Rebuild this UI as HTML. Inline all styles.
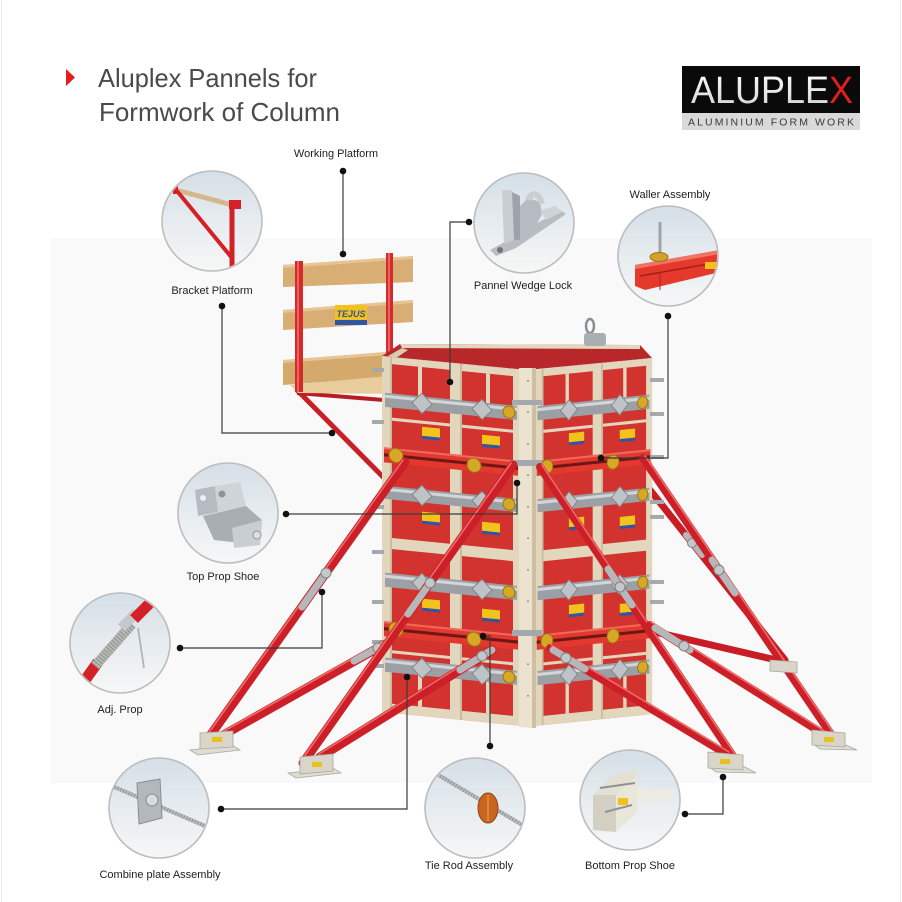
<!DOCTYPE html>
<html><head><meta charset="utf-8">
<style>
html,body{margin:0;padding:0;background:#fff;}
svg{display:block;}
text{font-family:"Liberation Sans",Arial,sans-serif;}
</style></head>
<body>
<svg width="902" height="902" viewBox="0 0 902 902" xmlns="http://www.w3.org/2000/svg">
<defs>
  <linearGradient id="cg" x1="0" y1="0" x2="0" y2="1">
    <stop offset="0" stop-color="#d5dfe7"/>
    <stop offset="0.55" stop-color="#e8edf0"/>
    <stop offset="1" stop-color="#f6f7f7"/>
  </linearGradient>
  <linearGradient id="alu" x1="0" y1="0" x2="0" y2="1">
    <stop offset="0" stop-color="#ffffff"/>
    <stop offset="1" stop-color="#cfcfcf"/>
  </linearGradient>
  <clipPath id="c1"><circle cx="212" cy="221" r="49"/></clipPath>
  <clipPath id="c2"><circle cx="524" cy="223" r="49"/></clipPath>
  <clipPath id="c3"><circle cx="668" cy="256" r="49"/></clipPath>
  <clipPath id="c4"><circle cx="228" cy="513" r="49"/></clipPath>
  <clipPath id="c5"><circle cx="120" cy="643" r="49"/></clipPath>
  <clipPath id="c6"><circle cx="159" cy="808" r="49"/></clipPath>
  <clipPath id="c7"><circle cx="475" cy="808" r="49"/></clipPath>
  <clipPath id="c8"><circle cx="630" cy="800" r="49"/></clipPath>

  <g id="face">
    <rect width="138" height="352" fill="#bd2428"/>
    <rect x="10" y="7" width="58" height="172" fill="#d3332f"/>
    <rect x="80" y="7" width="51" height="172" fill="#d3332f"/>
    <rect x="10" y="190" width="58" height="153" fill="#d3332f"/>
    <rect x="80" y="190" width="51" height="153" fill="#d3332f"/>
    <g fill="#e2d6bd">
      <rect x="0" y="0" width="10" height="352"/>
      <rect x="68" y="0" width="12" height="352"/>
      <rect x="131" y="0" width="7" height="352"/>
      <rect x="0" y="0" width="138" height="7"/>
      <rect x="0" y="179" width="138" height="11"/>
      <rect x="0" y="343" width="138" height="9"/>
      <rect x="36" y="7" width="4" height="30"/>
      <rect x="104" y="7" width="4" height="30"/>
      <rect x="36" y="312" width="4" height="31"/>
      <rect x="104" y="312" width="4" height="31"/>
      <rect x="10" y="60" width="58" height="3"/>
      <rect x="80" y="60" width="51" height="3"/>
      <rect x="10" y="290" width="58" height="3"/>
      <rect x="80" y="290" width="51" height="3"/>
    </g>
    <g fill="#c7bba2">
      <rect x="8" y="0" width="2" height="352"/>
      <rect x="78" y="0" width="2" height="352"/>
    </g>
    <!-- gray walers -->
    <g>
      <rect x="3" y="36" width="132" height="14" fill="#9aa0a4"/>
      <rect x="3" y="38" width="132" height="3" fill="#d2d6d8"/>
      <rect x="3" y="128" width="132" height="13" fill="#9aa0a4"/>
      <rect x="3" y="130" width="132" height="3" fill="#d2d6d8"/>
      <rect x="3" y="214" width="132" height="14" fill="#9aa0a4"/>
      <rect x="3" y="216" width="132" height="3" fill="#d2d6d8"/>
      <rect x="3" y="298" width="132" height="14" fill="#9aa0a4"/>
      <rect x="3" y="300" width="132" height="3" fill="#d2d6d8"/>
    </g>
    <g fill="#bfc3c6" stroke="#7f8589" stroke-width="1">
      <polygon points="40,33 50,43 40,53 30,43"/>
      <polygon points="100,33 110,43 100,53 90,43"/>
      <polygon points="40,124 50,134 40,144 30,134"/>
      <polygon points="100,124 110,134 100,144 90,134"/>
      <polygon points="40,211 50,221 40,231 30,221"/>
      <polygon points="100,211 110,221 100,231 90,221"/>
      <polygon points="40,295 50,305 40,315 30,305"/>
      <polygon points="100,295 110,305 100,315 90,305"/>
    </g>
    <g fill="#d6a826" stroke="#9c7410" stroke-width="1">
      <circle cx="127" cy="43" r="6"/>
      <circle cx="127" cy="134" r="6"/>
      <circle cx="127" cy="221" r="6"/>
      <circle cx="127" cy="305" r="6"/>
    </g>
    <!-- logos -->
    <g>
      <rect x="40" y="66" width="18" height="9" fill="#f2c31b"/><rect x="40" y="75" width="18" height="3" fill="#2f55a6"/>
      <rect x="100" y="68" width="18" height="9" fill="#f2c31b"/><rect x="100" y="77" width="18" height="3" fill="#2f55a6"/>
      <rect x="40" y="150" width="18" height="9" fill="#f2c31b"/><rect x="40" y="159" width="18" height="3" fill="#2f55a6"/>
      <rect x="100" y="154" width="18" height="9" fill="#f2c31b"/><rect x="100" y="163" width="18" height="3" fill="#2f55a6"/>
      <rect x="40" y="236" width="18" height="9" fill="#f2c31b"/><rect x="40" y="245" width="18" height="3" fill="#2f55a6"/>
      <rect x="100" y="240" width="18" height="9" fill="#f2c31b"/><rect x="100" y="249" width="18" height="3" fill="#2f55a6"/>
    </g>
    <!-- red walers -->
    <g>
      <rect x="2" y="90" width="134" height="15" fill="#e2382e"/>
      <rect x="2" y="96" width="134" height="3" fill="#6e1717"/>
      <rect x="2" y="90" width="134" height="2" fill="#f06a5e"/>
      <rect x="2" y="262" width="134" height="15" fill="#e2382e"/>
      <rect x="2" y="268" width="134" height="3" fill="#6e1717"/>
      <rect x="2" y="262" width="134" height="2" fill="#f06a5e"/>
    </g>
    <g fill="#d6a826" stroke="#9c7410" stroke-width="1">
      <circle cx="14" cy="97" r="7"/>
      <circle cx="92" cy="99" r="7"/>
      <circle cx="14" cy="269" r="7"/>
      <circle cx="92" cy="271" r="7"/>
    </g>
  </g>
</defs>

<!-- background -->
<rect width="902" height="902" fill="#ffffff"/>
<rect x="51" y="238" width="821" height="545" fill="#f9f9f9"/>
<line x1="1.5" y1="0" x2="1.5" y2="902" stroke="#e8e8e8" stroke-width="1"/>
<line x1="900.5" y1="0" x2="900.5" y2="902" stroke="#ededed" stroke-width="1"/>

<!-- title -->
<polygon points="66,69 75,77.5 66,86" fill="#e41e1e"/>
<text x="98" y="87" font-size="26" fill="#4a4a4a" textLength="219" lengthAdjust="spacingAndGlyphs">Aluplex Pannels for</text>
<text x="99" y="121" font-size="26" fill="#4a4a4a" textLength="241" lengthAdjust="spacingAndGlyphs">Formwork of Column</text>

<!-- logo -->
<rect x="682" y="66" width="178" height="47" fill="#0a0a0a"/>
<rect x="682" y="113" width="178" height="17" fill="#d9d9d9"/>
<text x="691" y="103" font-size="38" fill="url(#alu)" textLength="162" lengthAdjust="spacingAndGlyphs">ALUPLE<tspan fill="#e0201d">X</tspan></text>
<text x="688" y="125.5" font-size="10.5" fill="#3a3a3a" textLength="166" lengthAdjust="spacing">ALUMINIUM FORM WORK</text>

<!-- platform (behind column) -->
<g>
  <line x1="297" y1="390" x2="386" y2="480" stroke="#c91f26" stroke-width="5"/>
  <line x1="297" y1="393" x2="384" y2="400" stroke="#b81d22" stroke-width="4"/>
  <polygon points="283,265 413,256 413,282 283,287" fill="#d8ae74"/>
  <polygon points="283,265 413,256 413,259 283,268" fill="#e6c494"/>
  <polygon points="283,310 413,300 413,322 283,330" fill="#d8ae74"/>
  <polygon points="283,310 413,300 413,303 283,313" fill="#e6c494"/>
  <polygon points="283,360 413,350 413,375 283,385" fill="#d4a96c"/>
  <polygon points="283,360 413,350 413,353 283,363" fill="#e6c494"/>
  <polygon points="290,385 400,375 402,394 298,393" fill="#e9cc9b"/>
  <rect x="295" y="261" width="8" height="131" fill="#d42a2a"/>
  <rect x="297" y="261" width="2" height="131" fill="#ea6363"/>
  <rect x="386" y="253" width="7" height="127" fill="#d42a2a"/>
  <rect x="388" y="253" width="2" height="127" fill="#ea6363"/>
  <rect x="335" y="305" width="32" height="15" fill="#f2c21a"/>
  <rect x="335" y="320" width="32" height="5" fill="#2f55a6"/>
  <text x="351" y="317" font-size="9" font-weight="bold" font-style="italic" fill="#2f55a6" text-anchor="middle">TEJUS</text>
</g>

<!-- back props (right side) -->
<g stroke-linecap="round">
  <line x1="650" y1="490" x2="785" y2="660" stroke="#c81d25" stroke-width="7"/>
  <line x1="655" y1="632" x2="785" y2="662" stroke="#c81d25" stroke-width="7"/>
  <line x1="686" y1="535" x2="702" y2="555" stroke="#b5b8ba" stroke-width="6"/>
  <circle cx="692" cy="543" r="4.5" fill="#c5c8ca" stroke="#7d8285"/>
</g>

<!-- column -->
<polygon points="382,356 400,344 640,345 652,358 527,370" fill="#b8282a"/>
<polygon points="400,344 640,345 640,349 402,348" fill="#e2d6bd"/>
<polygon points="388,356 402,348 408,350 396,358" fill="#d8cbb0"/>
<use href="#face" transform="matrix(1,0.1,0,1.011,382,356)"/>
<use href="#face" transform="matrix(0.848,-0.087,0,1.011,535,370)"/>
<polygon points="519,368 536,368 536,728 519,727" fill="#ebe2cf"/>
<polygon points="532,368 536,368 536,728 532,728" fill="#cdbf9f"/>
<line x1="528" y1="380" x2="528" y2="720" stroke="#8a7f6a" stroke-width="1.5" stroke-dasharray="1.5 30"/>
<!-- edge clamps -->
<g fill="#a4a9ad">
  <rect x="372" y="368" width="12" height="4"/>
  <rect x="372" y="420" width="12" height="4"/>
  <rect x="372" y="505" width="12" height="4"/>
  <rect x="372" y="550" width="12" height="4"/>
  <rect x="372" y="600" width="12" height="4"/>
  <rect x="372" y="640" width="12" height="4"/>
  <rect x="372" y="664" width="12" height="4"/>
  <rect x="650" y="378" width="14" height="4"/>
  <rect x="650" y="412" width="14" height="4"/>
  <rect x="650" y="455" width="14" height="4"/>
  <rect x="650" y="500" width="14" height="4"/>
  <rect x="650" y="515" width="14" height="4"/>
  <rect x="650" y="580" width="14" height="4"/>
  <rect x="650" y="600" width="14" height="4"/>
  <rect x="512" y="400" width="30" height="5"/>
  <rect x="512" y="460" width="30" height="6"/>
  <rect x="512" y="630" width="30" height="6"/>
</g>
<!-- lifting eye -->
<ellipse cx="590" cy="326" rx="4" ry="7" fill="none" stroke="#8a8f92" stroke-width="2.5"/>
<rect x="584" y="333" width="22" height="13" rx="3" fill="#a9aeb1"/>

<!-- front props -->
<g stroke-linecap="round">
  <!-- A -->
  <line x1="207" y1="740" x2="405" y2="462" stroke="#cc1f27" stroke-width="9"/>
  <line x1="205" y1="738" x2="403" y2="460" stroke="#ef6b6b" stroke-width="1.6"/>
  <line x1="302" y1="607" x2="326" y2="573" stroke="#b5b8ba" stroke-width="7"/>
  <circle cx="326" cy="573" r="5" fill="#c5c8ca" stroke="#7d8285"/>
  <!-- B -->
  <line x1="218" y1="738" x2="383" y2="645" stroke="#cc1f27" stroke-width="9"/>
  <line x1="217" y1="735" x2="382" y2="642" stroke="#ef6b6b" stroke-width="1.6"/>
  <line x1="354" y1="661" x2="383" y2="645" stroke="#b5b8ba" stroke-width="7"/>
  <circle cx="378" cy="648" r="5" fill="#c5c8ca" stroke="#7d8285"/>
  <!-- C -->
  <line x1="303" y1="763" x2="513" y2="465" stroke="#cc1f27" stroke-width="9"/>
  <line x1="301" y1="761" x2="511" y2="463" stroke="#ef6b6b" stroke-width="1.6"/>
  <line x1="408" y1="614" x2="430" y2="583" stroke="#b5b8ba" stroke-width="7"/>
  <circle cx="430" cy="583" r="5" fill="#c5c8ca" stroke="#7d8285"/>
  <!-- D -->
  <line x1="320" y1="757" x2="492" y2="650" stroke="#cc1f27" stroke-width="9"/>
  <line x1="319" y1="754" x2="491" y2="647" stroke="#ef6b6b" stroke-width="1.6"/>
  <line x1="460" y1="670" x2="492" y2="650" stroke="#b5b8ba" stroke-width="7"/>
  <circle cx="482" cy="656" r="5" fill="#c5c8ca" stroke="#7d8285"/>
  <!-- E -->
  <line x1="540" y1="467" x2="737" y2="762" stroke="#cc1f27" stroke-width="8"/>
  <line x1="542" y1="465" x2="739" y2="760" stroke="#ef6b6b" stroke-width="1.6"/>
  <line x1="608" y1="569" x2="632" y2="605" stroke="#b5b8ba" stroke-width="7"/>
  <circle cx="620" cy="587" r="5" fill="#c5c8ca" stroke="#7d8285"/>
  <!-- F -->
  <line x1="550" y1="648" x2="728" y2="755" stroke="#cc1f27" stroke-width="8"/>
  <line x1="551" y1="645" x2="729" y2="752" stroke="#ef6b6b" stroke-width="1.6"/>
  <line x1="553" y1="650" x2="585" y2="669" stroke="#b5b8ba" stroke-width="7"/>
  <circle cx="566" cy="658" r="5" fill="#c5c8ca" stroke="#7d8285"/>
  <!-- G -->
  <line x1="643" y1="458" x2="835" y2="740" stroke="#cc1f27" stroke-width="8"/>
  <line x1="645" y1="456" x2="837" y2="738" stroke="#ef6b6b" stroke-width="1.6"/>
  <line x1="712" y1="560" x2="735" y2="593" stroke="#b5b8ba" stroke-width="7"/>
  <circle cx="719" cy="570" r="5" fill="#c5c8ca" stroke="#7d8285"/>
  <!-- I -->
  <line x1="650" y1="625" x2="825" y2="735" stroke="#cc1f27" stroke-width="8"/>
  <line x1="651" y1="622" x2="826" y2="732" stroke="#ef6b6b" stroke-width="1.6"/>
  <line x1="655" y1="628" x2="690" y2="650" stroke="#b5b8ba" stroke-width="7"/>
  <circle cx="684" cy="646" r="5" fill="#c5c8ca" stroke="#7d8285"/>
</g>

<!-- shoes -->
<g stroke="#a9a79e" stroke-width="0.8">
  <polygon points="190,750 232,745 240,750 198,755" fill="#dedcd3"/>
  <polygon points="200,733 233,731 233,747 200,749" fill="#d9d5c8"/>
  <polygon points="288,773 333,768 341,773 296,778" fill="#dedcd3"/>
  <polygon points="300,757 333,754 333,771 300,774" fill="#d9d5c8"/>
  <polygon points="708,766 745,767 756,773 716,772" fill="#dedcd3"/>
  <polygon points="708,752 743,755 743,770 708,768" fill="#d9d5c8"/>
  <polygon points="812,743 846,745 857,750 820,749" fill="#dedcd3"/>
  <polygon points="812,730 845,733 845,747 812,745" fill="#d9d5c8"/>
  <polygon points="770,660 797,662 797,673 770,671" fill="#d9d5c8"/>
</g>
<g>
  <rect x="212" y="737" width="10" height="5" fill="#e8c21c"/>
  <rect x="312" y="762" width="10" height="5" fill="#e8c21c"/>
  <rect x="720" y="759" width="10" height="5" fill="#e8c21c"/>
  <rect x="824" y="737" width="10" height="5" fill="#e8c21c"/>
</g>

<!-- detail circles -->
<g stroke="#bdbdbd" stroke-width="1.6" fill="url(#cg)">
  <circle cx="212" cy="221" r="50"/>
  <circle cx="524" cy="223" r="50"/>
  <circle cx="668" cy="256" r="50"/>
  <circle cx="228" cy="513" r="50"/>
  <circle cx="120" cy="643" r="50"/>
  <circle cx="159" cy="808" r="50"/>
  <circle cx="475" cy="808" r="50"/>
  <circle cx="630" cy="800" r="50"/>
</g>

<!-- circle contents -->
<g clip-path="url(#c1)">
  <line x1="176" y1="190" x2="240" y2="207" stroke="#d6b78c" stroke-width="5"/>
  <line x1="177" y1="191" x2="232" y2="258" stroke="#d42127" stroke-width="4"/>
  <line x1="232" y1="204" x2="232" y2="268" stroke="#d42127" stroke-width="5"/>
  <rect x="173" y="186" width="5" height="8" fill="#d42127"/>
  <rect x="229" y="200" width="12" height="9" fill="#d42127"/>
</g>
<g clip-path="url(#c2)">
  <polygon points="490,250 512,238 560,210 566,214 516,248 496,256" fill="#b8bdc1"/>
  <polygon points="502,190 512,190 514,240 504,244" fill="#c9ced2"/>
  <polygon points="512,192 520,196 520,240 514,240" fill="#9da3a8"/>
  <polygon points="520,206 528,198 540,202 542,214 530,238 520,240" fill="#b5bbc0"/>
  <path d="M528,200 C532,190 540,194 542,204" fill="none" stroke="#c9ced2" stroke-width="6"/>
  <polygon points="540,210 556,206 562,212 546,220" fill="#cfd3d6"/>
  <circle cx="500" cy="250" r="3" fill="#6e7478"/>
</g>
<g clip-path="url(#c3)">
  <line x1="660" y1="222" x2="660" y2="256" stroke="#a0a4a7" stroke-width="3"/>
  <polygon points="635,265 720,250 720,272 645,290 635,286" fill="#e53a2b"/>
  <polygon points="635,265 720,250 720,254 635,269" fill="#f07464"/>
  <line x1="640" y1="276" x2="720" y2="262" stroke="#a11f1a" stroke-width="1.5"/>
  <line x1="660" y1="272" x2="660" y2="290" stroke="#b02420" stroke-width="1"/>
  <ellipse cx="659" cy="257" rx="9" ry="4.5" fill="#d4a22a" stroke="#9c7410"/>
  <rect x="705" y="262" width="12" height="7" fill="#f2c21a"/>
</g>
<g clip-path="url(#c4)">
  <polygon points="195,490 215,486 218,512 198,516" fill="#b5bbc0"/>
  <polygon points="215,486 240,482 246,506 218,512" fill="#cfd4d7"/>
  <circle cx="203" cy="498" r="3" fill="#eef1f3"/>
  <circle cx="222" cy="494" r="3.5" fill="#8d9397"/>
  <polygon points="203,516 246,506 262,520 260,545 214,540" fill="#a8aeb2"/>
  <polygon points="232,528 262,520 260,545 234,548" fill="#c9ced2"/>
  <circle cx="257" cy="535" r="4" fill="#dde0e2" stroke="#8d9397"/>
</g>
<g clip-path="url(#c5)">
  <line x1="78" y1="690" x2="98" y2="662" stroke="#d42127" stroke-width="11"/>
  <line x1="95" y1="666" x2="132" y2="624" stroke="#b7b9b5" stroke-width="10"/>
  <line x1="95" y1="666" x2="132" y2="624" stroke="#8f9290" stroke-width="10" stroke-dasharray="1 2"/>
  <rect x="118" y="615" width="22" height="10" fill="#c5c9cc" transform="rotate(-45 129 620)"/>
  <line x1="134" y1="619" x2="150" y2="603" stroke="#d42127" stroke-width="11"/>
  <line x1="138" y1="628" x2="144" y2="668" stroke="#b0b4b7" stroke-width="1.8"/>
</g>
<g clip-path="url(#c6)">
  <line x1="112" y1="786" x2="205" y2="826" stroke="#b9bcbd" stroke-width="4"/>
  <line x1="112" y1="786" x2="205" y2="826" stroke="#8e9294" stroke-width="4" stroke-dasharray="1 2"/>
  <polygon points="137,783 160,779 162,818 139,824" fill="#b3b8bc" stroke="#868c90"/>
  <circle cx="152" cy="800" r="6" fill="#d8dcdf" stroke="#868c90"/>
</g>
<g clip-path="url(#c7)">
  <line x1="430" y1="770" x2="524" y2="826" stroke="#b9bcbd" stroke-width="4"/>
  <line x1="430" y1="770" x2="524" y2="826" stroke="#8e9294" stroke-width="4" stroke-dasharray="1 2"/>
  <ellipse cx="488" cy="808" rx="10" ry="15" fill="#c8661e" stroke="#8f4510"/>
  <line x1="488" y1="795" x2="488" y2="821" stroke="#f0a45c" stroke-width="1"/>
</g>
<g clip-path="url(#c8)">
  <polygon points="637,788 675,790 668,802 637,802" fill="#eceae2"/>
  <polygon points="593,795 613,775 637,770 637,812 616,832 593,830" fill="#e3e0d4"/>
  <polygon points="593,795 616,795 616,832 593,830" fill="#d3d0c3"/>
  <polygon points="616,795 637,775 637,812 616,832" fill="#e9e6da"/>
  <line x1="600" y1="788" x2="635" y2="783" stroke="#8f9396" stroke-width="2"/>
  <line x1="605" y1="812" x2="632" y2="805" stroke="#8f9396" stroke-width="2"/>
  <rect x="618" y="798" width="10" height="7" fill="#f2c21a"/>
</g>

<!-- labels -->
<g font-size="11" fill="#1e1e1e" text-anchor="middle">
  <text x="336" y="157">Working Platform</text>
  <text x="212" y="294">Bracket Platform</text>
  <text x="523" y="289">Pannel Wedge Lock</text>
  <text x="670" y="198">Waller Assembly</text>
  <text x="223" y="580">Top Prop Shoe</text>
  <text x="120" y="713">Adj. Prop</text>
  <text x="160" y="878">Combine plate Assembly</text>
  <text x="469" y="869">Tie Rod Assembly</text>
  <text x="630" y="869">Bottom Prop Shoe</text>
</g>

<!-- connectors -->
<g fill="none" stroke="#3a3a3a" stroke-width="1.2">
  <path d="M343,171 V254"/>
  <path d="M222,306 V433 H332"/>
  <path d="M469,222 H450 V382"/>
  <path d="M668,316 V458 H601"/>
  <path d="M286,514 H517 V483"/>
  <path d="M180,648 H322 V592"/>
  <path d="M221,809 H407 V677"/>
  <path d="M483,636 H490 V746"/>
  <path d="M685,814 H723 V777"/>
</g>
<g fill="#111">
  <circle cx="343" cy="171" r="3.3"/><circle cx="343" cy="254" r="3.3"/>
  <circle cx="222" cy="306" r="3.3"/><circle cx="332" cy="433" r="3.3"/>
  <circle cx="469" cy="222" r="3.3"/><circle cx="450" cy="382" r="3.3"/>
  <circle cx="668" cy="316" r="3.3"/><circle cx="601" cy="458" r="3.3"/>
  <circle cx="286" cy="514" r="3.3"/><circle cx="517" cy="483" r="3.3"/>
  <circle cx="180" cy="648" r="3.3"/><circle cx="322" cy="592" r="3.3"/>
  <circle cx="221" cy="809" r="3.3"/><circle cx="407" cy="677" r="3.3"/>
  <circle cx="483" cy="636" r="3.3"/><circle cx="490" cy="746" r="3.3"/>
  <circle cx="685" cy="814" r="3.3"/><circle cx="723" cy="777" r="3.3"/>
</g>
</svg>
</body></html>
